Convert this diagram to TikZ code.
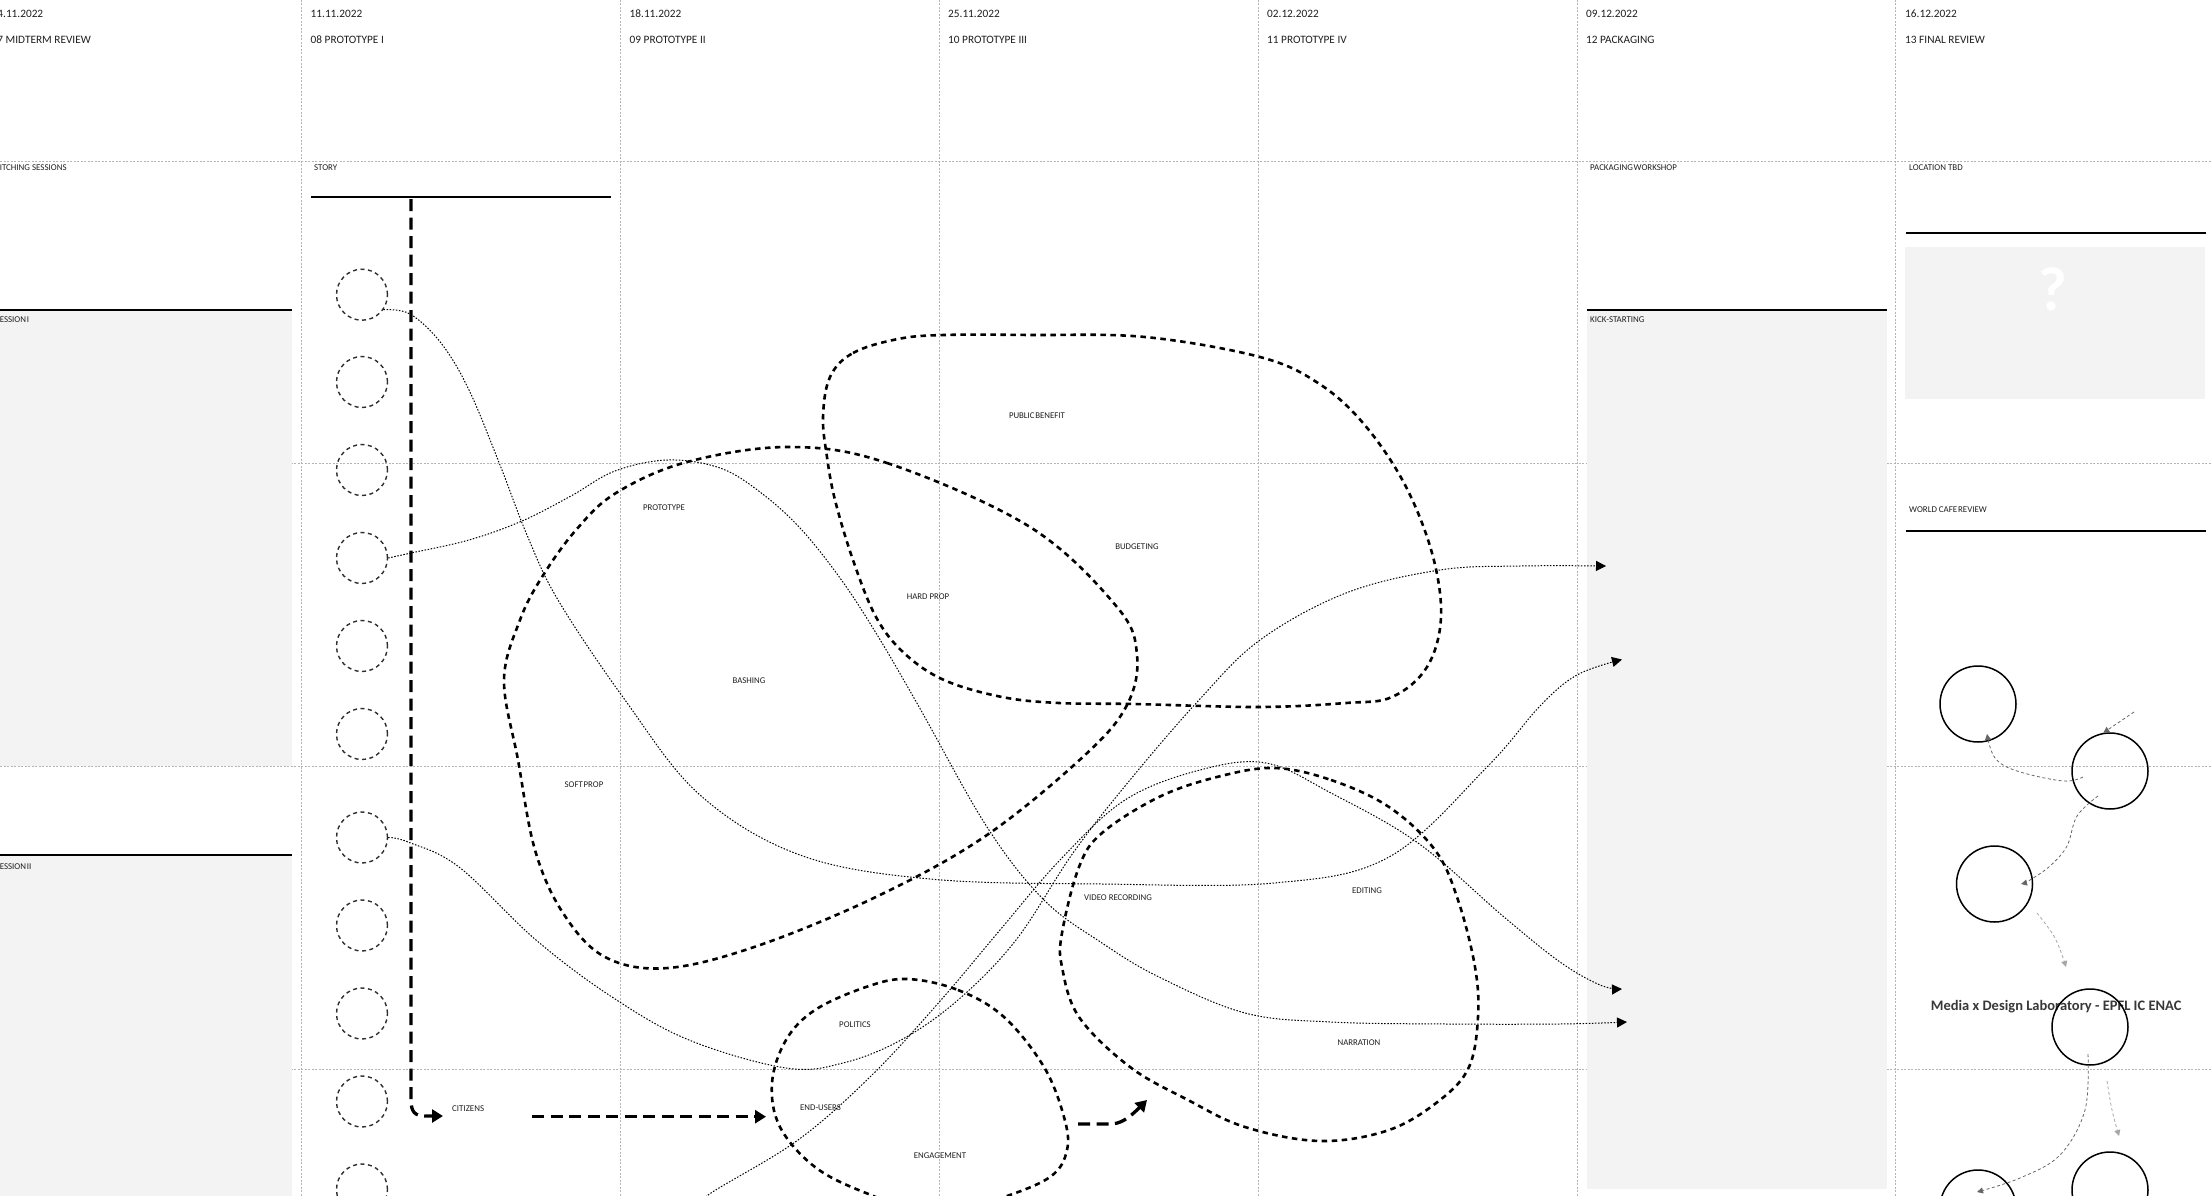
\documentclass[tikz,border=0pt]{standalone}
\usepackage{fontspec}
\setmainfont{Carlito}
\usetikzlibrary{arrows.meta}
\definecolor{panel}{RGB}{243,243,243}
\definecolor{gridc}{RGB}{180,180,180}
\definecolor{txt}{RGB}{30,30,30}
\newcommand{\tsp}{\hspace{0.8pt}}
\begin{document}
\begin{tikzpicture}[x=1pt,y=-1pt,
  gridline/.style={gridc, line width=0.8pt, dash pattern=on 2pt off 1.5pt},
  panelbox/.style={fill=panel, draw=none},
  bar/.style={line width=2.7pt, black},
  datetxt/.style={anchor=base west, inner sep=0pt, font=\fontsize{11.3}{13}\selectfont, text=txt},
  smalltxt/.style={anchor=base west, inner sep=0pt, font=\fontsize{8.9}{10}\selectfont, text=txt},
  blobtxt/.style={anchor=center, inner sep=0pt, font=\fontsize{8.8}{10}\selectfont, text=txt},
  storycirc/.style={circle, draw=black!82, line width=1.4pt, dash pattern=on 4pt off 3.5pt, minimum size=51pt, inner sep=0pt},
  cafecirc/.style={circle, draw=black, line width=1.5pt, minimum size=76pt, inner sep=0pt},
  blob/.style={line width=2.6pt, dash pattern=on 5.5pt off 4.5pt},
  thinline/.style={line width=1pt, dash pattern=on 1.5pt off 1.6pt},
  thinarrow/.style={thinline, -{Triangle[length=10pt,width=10pt]}},
  thickdash/.style={line width=3.3pt, dash pattern=on 12pt off 6.5pt, -{Triangle[length=11pt,width=13pt]}},
  grayarr/.style={black!60, line width=0.8pt, dash pattern=on 3pt off 2.5pt, -{Triangle[length=6pt,width=6pt]}},
  lightarr/.style={black!35, line width=0.8pt, dash pattern=on 3pt off 2.5pt, -{Triangle[length=6pt,width=6pt]}}
]
\useasboundingbox (0,0) rectangle (2212,1196);
% grid
\foreach \gx in {301.5,620.5,939,1258,1577,1895.5}{
  \draw[gridline] (\gx,0) -- (\gx,1196);
}
\foreach \gy in {161,463,766,1069}{
  \draw[gridline] (0,\gy) -- (2212,\gy);
}
% panels
\fill[panelbox] (0,311) rectangle (292,766);
\fill[panelbox] (0,856) rectangle (292,1196);
\fill[panelbox] (1587,311) rectangle (1887,1189);
\fill[panelbox] (1905,247) rectangle (2205,399);
\draw[bar] (0,310) -- (292,310);
\draw[bar] (0,855) -- (292,855);
\draw[bar] (1587,310) -- (1887,310);
\draw[bar] (1906,233) -- (2206,233);
\draw[bar] (1906,531) -- (2206,531);
\draw[bar] (311,197) -- (611,197);
\node[text=white, font=\bfseries\fontsize{62}{64}\selectfont, inner sep=0pt] (qm) at (2053,289) {?};
% header
\node[datetxt] (d0) at (-8.5,17.3) {04.11.2022};
\node[datetxt] (t0) at (-8.5,43.3) {07 MIDTERM REVIEW};
\node[datetxt] (d1) at (310.5,17.3) {11.11.2022};
\node[datetxt] (t1) at (310.5,43.3) {08 PROTOTYPE I};
\node[datetxt] (d2) at (629.5,17.3) {18.11.2022};
\node[datetxt] (t2) at (629.5,43.3) {09 PROTOTYPE II};
\node[datetxt] (d3) at (948,17.3) {25.11.2022};
\node[datetxt] (t3) at (948,43.3) {10 PROTOTYPE III};
\node[datetxt] (d4) at (1267,17.3) {02.12.2022};
\node[datetxt] (t4) at (1267,43.3) {11 PROTOTYPE IV};
\node[datetxt] (d5) at (1586,17.3) {09.12.2022};
\node[datetxt] (t5) at (1586,43.3) {12 PACKAGING};
\node[datetxt] (d6) at (1905,17.3) {16.12.2022};
\node[datetxt] (t6) at (1905,43.3) {13 FINAL REVIEW};
% session labels
\node[smalltxt] (s0) at (-5,170.3) {PITCHING SESSIONS};
\node[smalltxt] (s1) at (314,170.3) {STORY};
\node[smalltxt] (s5) at (1590,170.3) {PACKAGING\tsp WORKSHOP};
\node[smalltxt] (s6) at (1909,170.3) {LOCATION TBD};
\node[smalltxt] (se1) at (-4.5,322) {SESSION\tsp I};
\node[smalltxt] (se2) at (-4.5,869) {SESSION\tsp II};
\node[smalltxt] (ks) at (1590,322) {KICK-STARTING};
\node[smalltxt] (wc) at (1909,512.6) {WORLD CAFE\tsp REVIEW};
% blobs
\draw[blob] plot[smooth cycle, tension=0.6] coordinates {(789,447) (887,463) (1030,527) (1117,607) (1137,655) (1127,705) (1085,755) (987,835) (880,895) (760,945) (668,968) (605,957) (563,913) (535,850) (518,760) (504,680) (520,620) (542,577) (576,530) (616,493) (687,462)};
\draw[blob] plot[smooth cycle, tension=0.6] coordinates {(830,377) (853,353) (898,339) (944,335) (1030,335) (1145,337) (1260,357) (1318,383) (1363,423) (1404,483) (1432,553) (1441,617) (1427,667) (1392,697) (1346,703) (1260,707) (1134,704) (1059,703) (1002,697) (944,680) (904,653) (876,617) (853,560) (835,500) (827,457) (823,417)};
\draw[blob] plot[smooth cycle, tension=0.6] coordinates {(1274,768) (1331,780) (1389,807) (1435,850) (1458,900) (1475,967) (1478,1017) (1469,1067) (1440,1100) (1389,1130) (1320,1141) (1245,1127) (1188,1100) (1130,1067) (1079,1017) (1062,967) (1062,933) (1079,867) (1102,833) (1159,797) (1217,777)};
\draw[blob] plot[smooth cycle, tension=0.6] coordinates {(907,979) (958,990) (1004,1017) (1044,1067) (1064,1117) (1067,1150) (1050,1177) (998,1199) (935,1215) (866,1193) (815,1167) (780,1127) (772,1083) (786,1040) (815,1010) (866,987)};
% blob labels
\node[blobtxt] (lproto) at (664,508) {PROTOTYPE};
\node[blobtxt] (lbash) at (749,681) {BASHING};
\node[blobtxt] (lhard) at (928,597) {HARD PROP};
\node[blobtxt] (lpub) at (1037,416) {PUBLIC\tsp BENEFIT};
\node[blobtxt] (lbud) at (1137,547) {BUDGETING};
\node[blobtxt] (lsoft) at (584,785) {SOFT\tsp PROP};
\node[blobtxt] (lvid) at (1118,898) {VIDEO RECORDING};
\node[blobtxt] (ledit) at (1367,891) {EDITING};
\node[blobtxt] (lnarr) at (1359,1043) {NARRATION};
\node[blobtxt] (lpol) at (855,1025) {POLITICS};
\node[blobtxt] (lend) at (820.5,1108) {END-USERS};
\node[blobtxt] (leng) at (940,1156) {ENGAGEMENT};
\node[smalltxt] (cit) at (452,1111.5) {CITIZENS};
% story circles
\foreach \i/\cy in {1/294.7,2/382,3/470,4/558,5/646,6/734,7/837.5,8/925.5,9/1013.5,10/1101.5,11/1189.5}{
  \node[storycirc] (c\i) at (362,\cy) {};
}
% end points
\coordinate (pk1) at (1606,566);
\coordinate (pk2) at (1622,659.5);
\coordinate (pk3) at (1622,989);
\coordinate (pk4) at (1627,1022);
\coordinate (dstart) at (690,1212);
% thin connectors
\draw[thinarrow] plot[smooth, tension=0.6] coordinates {(c1.-35) (410,314) (441,343) (469,390) (500,465) (527,535) (558,600) (625,700) (700,795) (800,855) (930,879) (1102,884) (1274,883) (1389,857) (1487,767) (1540,706) (1577,675) (pk2)};
\draw[thinarrow] plot[smooth, tension=0.6] coordinates {(c4.east) (411,553) (469,540) (522,521) (571,496) (615,471) (668,460) (720,468) (760,492) (800,528) (840,578) (876,633) (918,705) (987,827) (1044,900) (1102,943) (1159,977) (1245,1013) (1331,1022) (1446,1024) (1560,1024) (pk4)};
\draw[thinarrow] plot[smooth, tension=0.6] coordinates {(c7.east) (408,842) (459,867) (536,940) (612,997) (689,1040) (786,1068) (843,1063) (901,1040) (958,1000) (1016,940) (1073,853) (1130,780) (1199,700) (1260,640) (1346,593) (1440,570) (1520,566) (pk1)};
\draw[thinarrow] plot[smooth, tension=0.6] coordinates {(dstart) (711,1193) (798,1140) (872,1075) (941,1000) (1000,930) (1060,860) (1125,800) (1200,770) (1266,763) (1331,793) (1418,843) (1504,917) (1560,962) (1600,985) (pk3)};
% thick dashed flow
\coordinate (storytop) at (411,199);
\coordinate (citin) at (443,1116);
\coordinate (citout) at (532,1116.7);
\coordinate (euin) at (766,1116.7);
\coordinate (engout) at (1078,1124);
\coordinate (vidin) at (1147,1100);
\draw[thickdash] (storytop) -- (411,1100) .. controls (411,1112) and (415,1116) .. (425,1116) -- (citin);
\draw[thickdash] (citout) -- (euin);
\draw[thickdash] (engout) -- (1110,1124) .. controls (1120,1124) and (1128,1119) .. (vidin);
% world cafe circles
\node[font=\bfseries\fontsize{14.5}{16}\selectfont, text=black!78, anchor=west, inner sep=0pt] (mxd) at (1930.7,1006.6) {Media x Design Laboratory - EPFL IC ENAC};
\node[cafecirc] (w1) at (1978,704) {};
\node[cafecirc] (w2) at (2110,771) {};
\node[cafecirc] (w3) at (1994.5,884) {};
\node[cafecirc] (w4) at (2090,1027) {};
\node[cafecirc] (w5) at (1978,1208) {};
\node[cafecirc] (w6) at (2110,1190) {};
\coordinate (g1s) at (2134,712);
\coordinate (g2s) at (2083,777);
\coordinate (g3s) at (2098,796);
\coordinate (g4s) at (2037,913);
\coordinate (g5s) at (2088,1054);
\coordinate (g6s) at (2107,1081);
\draw[grayarr] (g1s) -- (w2.100);
\draw[grayarr] plot[smooth, tension=0.6] coordinates {(g2s) (2063,781) (2017,771) (1995,758) (1987,734)};
\draw[grayarr] plot[smooth, tension=0.6] coordinates {(g3s) (2077,816) (2067,846) (2050,866) (2030,880) (2021,884)};
\draw[lightarr] plot[smooth, tension=0.6] coordinates {(g4s) (2055,938) (2066,967)};
\draw[grayarr] plot[smooth, tension=0.6] coordinates {(g5s) (2085,1110) (2060,1155) (2020,1178) (1977,1192)};
\draw[lightarr] plot[smooth, tension=0.6] coordinates {(g6s) (2112,1110) (2119,1136)};
\end{tikzpicture}
\end{document}
